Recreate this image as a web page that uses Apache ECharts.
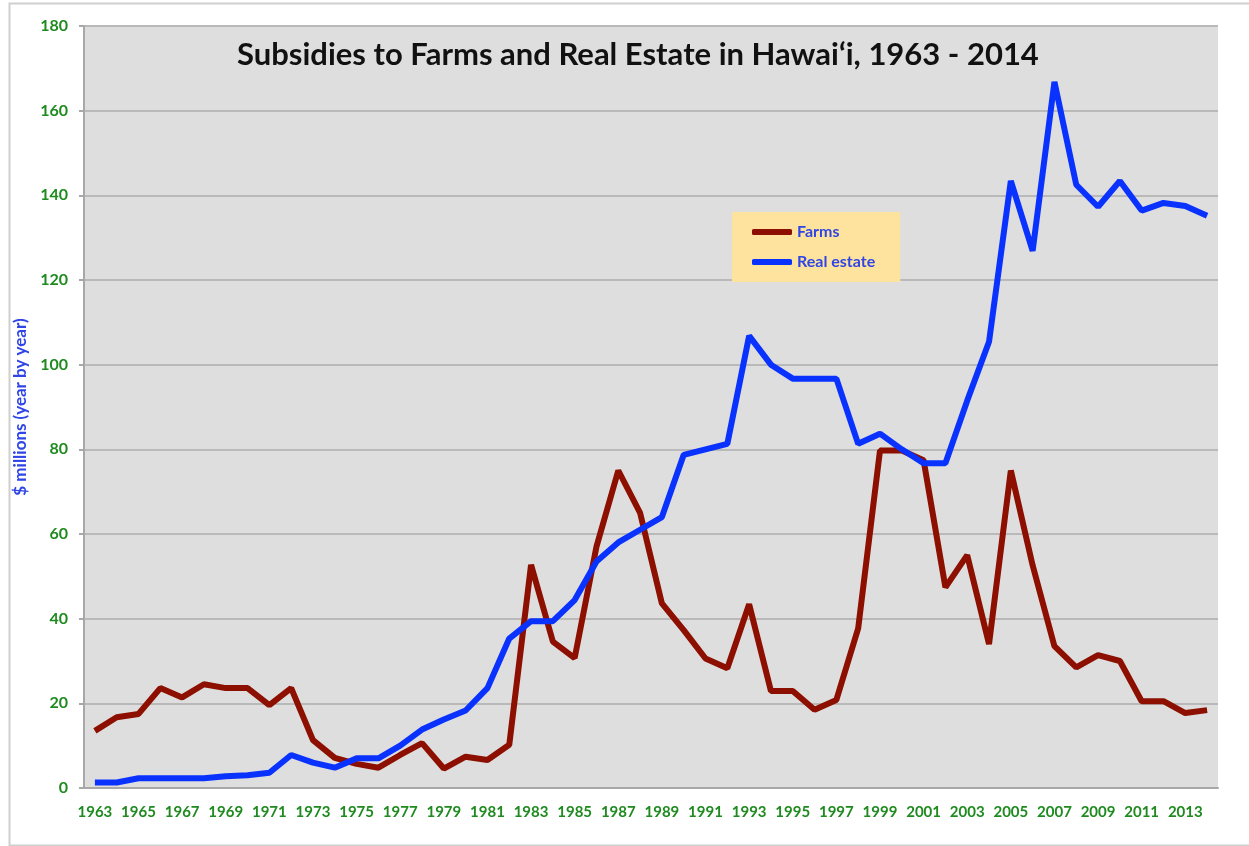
<!DOCTYPE html>
<html>
<head>
<meta charset="utf-8">
<title>Subsidies to Farms and Real Estate in Hawai‘i</title>
<script src="https://cdn.jsdelivr.net/npm/echarts@6/dist/echarts.min.js"></script>
<style>
  html, body { margin: 0; padding: 0; background: #fff; }
  #main { width: 1249px; height: 846px; }
</style>
</head>
<body>
<div id="main"></div>
<script>
// years on the x axis
var years = ['1963','1964','1965','1966','1967','1968','1969','1970','1971','1972',
  '1973','1974','1975','1976','1977','1978','1979','1980','1981','1982',
  '1983','1984','1985','1986','1987','1988','1989','1990','1991','1992',
  '1993','1994','1995','1996','1997','1998','1999','2000','2001','2002',
  '2003','2004','2005','2006','2007','2008','2009','2010','2011','2012',
  '2013','2014'];

// $ millions
var farms = [13.5,16.7,17.5,23.6,21.4,24.5,23.6,23.6,19.6,23.6,
  11.3,7.1,5.7,4.8,7.8,10.6,4.6,7.4,6.6,10.2,
  52.7,34.6,30.7,57,75,65,43.6,37.3,30.6,28.3,
  43.4,22.9,22.9,18.5,20.8,37.7,79.7,79.7,77.4,47.4,
  55,34,75,52.6,33.5,28.5,31.4,30,20.5,20.5,
  17.7,18.4];

var realEstate = [1.3,1.3,2.3,2.3,2.3,2.3,2.8,3,3.6,7.8,
  6,4.8,7,7,10,13.8,16.2,18.3,23.6,35.3,
  39.4,39.4,44.4,53.5,58,61,64,78.7,80,81.3,
  106.8,100,96.7,96.7,96.7,81.3,83.7,80,76.7,76.7,
  91.5,105.4,143.4,126.9,166.8,142.5,137.3,143.4,136.4,138.2,
  137.5,135.2];

var yTicks = { min: 0, max: 180, step: 20 };

var green = '#1f8a1f';
var font = 'Lato, "Open Sans", sans-serif';

var myChart = echarts.init(document.getElementById('main'));

myChart.setOption({
  animation: false,
  backgroundColor: '#ffffff',
  title: {
    text: 'Subsidies to Farms and Real Estate in Hawai‘i, 1963 - 2014',
    left: 232,
    top: 34,
    textStyle: { fontFamily: font, fontWeight: 'bold', fontSize: 31, color: '#111' }
  },
  graphic: [{
    type: 'rect',
    left: 7, top: 1,
    shape: { width: 1260, height: 842 },
    style: { fill: 'none', stroke: '#cfcfcf', lineWidth: 2 },
    z: -1
  }],
  legend: {
    orient: 'vertical',
    left: 732,
    top: 212,
    padding: [12, 25, 12, 20],
    backgroundColor: '#fde39d',
    itemWidth: 40,
    itemHeight: 6,
    itemGap: 14,
    icon: 'roundRect',
    textStyle: { fontFamily: font, fontWeight: 'bold', fontSize: 16, color: '#2f45e6' },
    data: ['Farms', 'Real estate']
  },
  grid: {
    left: 84, top: 26, right: 31, bottom: 58,
    show: true,
    backgroundColor: '#dedede',
    borderWidth: 0
  },
  xAxis: {
    type: 'category',
    data: years,
    axisLine: { lineStyle: { color: '#a8a8a8', width: 2 } },
    axisTick: { interval: 0, length: 5, lineStyle: { color: '#a8a8a8', width: 2 } },
    axisLabel: {
      interval: 1,
      margin: 17,
      color: green,
      fontFamily: font,
      fontWeight: 'bold',
      fontSize: 15
    },
    splitLine: { show: false }
  },
  yAxis: {
    type: 'value',
    min: yTicks.min,
    max: yTicks.max,
    interval: yTicks.step,
    name: '$ millions (year by year)',
    nameLocation: 'middle',
    nameGap: 53,
    nameTextStyle: { color: '#2f45e6', fontFamily: font, fontWeight: 'bold', fontSize: 17 },
    axisLine: { show: true, lineStyle: { color: '#a8a8a8', width: 2 } },
    axisTick: { show: true, length: 5, lineStyle: { color: '#a8a8a8', width: 2 } },
    axisLabel: {
      margin: 16,
      color: green,
      fontFamily: font,
      fontWeight: 'bold',
      fontSize: 16
    },
    splitLine: { lineStyle: { color: '#b9b9b9', width: 2 } }
  },
  series: [
    {
      name: 'Farms',
      type: 'line',
      data: farms,
      symbol: 'none',
      color: '#8c0f00',
      lineStyle: { width: 6, color: '#8c0f00' }
    },
    {
      name: 'Real estate',
      type: 'line',
      data: realEstate,
      symbol: 'none',
      color: '#0a32ff',
      lineStyle: { width: 6, color: '#0a32ff' }
    }
  ]
});
</script>
</body>
</html>
